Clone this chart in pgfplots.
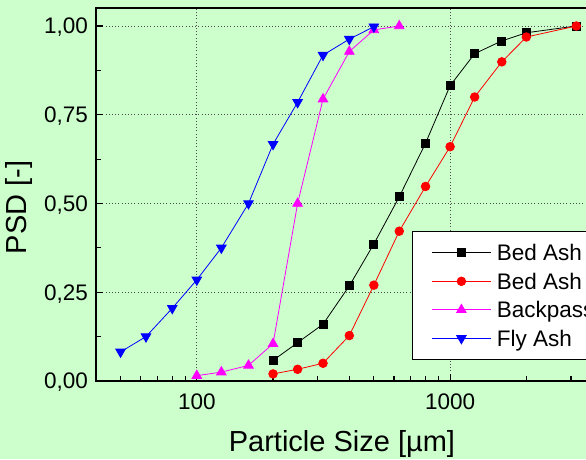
\documentclass[border=0pt]{standalone}
\usepackage{fontspec}
\setmainfont{Liberation Sans}
\usepackage{pgfplots}
\pgfplotsset{compat=1.18}
\definecolor{bg}{HTML}{CCFFCC}
\definecolor{mag}{RGB}{255,0,255}
\definecolor{rd}{RGB}{255,0,0}
\definecolor{bl}{RGB}{0,0,255}
\begin{document}
\begin{tikzpicture}
\useasboundingbox (0pt,0pt) rectangle (586pt,459pt);
\fill[bg] (0pt,0pt) rectangle (586pt,459pt);
\clip (0pt,0pt) rectangle (586pt,459pt);
\begin{semilogxaxis}[
  at={(96pt,78pt)}, anchor=south west,
  scale only axis, width=491.9pt, height=372.75pt,
  xmin=40, xmax=3500, ymin=0, ymax=1.05,
  axis line style={line width=1.8pt},
  xtick={100,1000}, xticklabels={100,1000},
  minor xtick={40,50,60,70,80,90,200,300,400,500,600,700,800,900,2000,3000},
  ytick={0,0.25,0.5,0.75,1},
  minor ytick={0.125,0.375,0.625,0.875},
  yticklabels={{0,00},{0,25},{0,50},{0,75},{1,00}},
  tick pos=left, tick align=inside,
  major tick length=7pt, minor tick length=5pt,
  every tick/.style={black, line width=1.2pt},
  grid=major,
  major grid style={black!70, line width=0.9pt, dash pattern=on 1pt off 2.2pt},
  ticklabel style={font=\fontsize{22.5}{22.5}\selectfont},
  xticklabel style={inner sep=0pt, yshift=-13pt},
  yticklabel style={inner sep=0pt, xshift=-8pt, text depth=0pt},
  xlabel={Particle Size [µm]},
  ylabel={PSD [-]},
  xlabel style={at={(axis description cs:0.5,0)}, anchor=base, yshift=-70.7pt, font=\fontsize{29}{29}\selectfont},
  ylabel style={at={(axis description cs:-0.1403,0.4655)}, anchor=base, font=\fontsize{29}{29}\selectfont},
  legend style={at={(axis description cs:0.6418,0.4032)}, anchor=north west,
    draw=black, line width=1pt, fill=white,
    font=\fontsize{22.5}{22.5}\selectfont,
    cells={anchor=west},
    nodes={inner sep=0pt, text height=18.5pt, text depth=2.5pt},
    column sep=5.5pt, row sep=7.5pt, inner xsep=19.3pt, inner ysep=11.1pt},
  legend image code/.code={\draw[mark repeat=2,mark phase=2,#1] plot coordinates {(0pt,0pt) (29.5pt,0pt) (59pt,0pt)};},
]
\addplot[black, line width=0.8pt, mark=square*, mark size=4pt, mark options={solid}] coordinates {
(200,0.058) (250,0.108) (315,0.16) (400,0.268) (500,0.386) (630,0.519) (800,0.67) (1000,0.832) (1250,0.922) (1600,0.958) (2000,0.981) (3150,1.0)};
\addlegendentry{Bed Ash}
\addplot[rd, line width=0.8pt, mark=*, mark size=4.3pt, mark options={solid}] coordinates {
(200,0.02) (250,0.033) (315,0.05) (400,0.128) (500,0.27) (630,0.422) (800,0.548) (1000,0.66) (1250,0.80) (1600,0.899) (2000,0.969) (3150,1.0)};
\addlegendentry{Bed Ash}
\addplot[mag, line width=0.8pt, mark=triangle*, mark size=5.5pt, mark options={solid}] coordinates {
(100,0.015) (125,0.025) (160,0.044) (200,0.105) (250,0.50) (315,0.794) (400,0.928) (500,0.989) (630,1.0)};
\addlegendentry{Backpass}
\addplot[bl, line width=0.8pt, mark=triangle*, mark size=5.5pt, mark options={solid, rotate=180}] coordinates {
(50,0.082) (63,0.125) (80,0.205) (100,0.285) (125,0.375) (160,0.50) (200,0.667) (250,0.785) (315,0.918) (400,0.963) (500,0.998)};
\addlegendentry{Fly Ash}
\end{semilogxaxis}
\end{tikzpicture}
\end{document}
